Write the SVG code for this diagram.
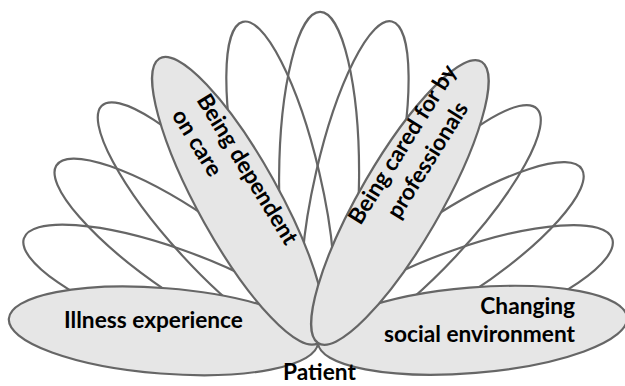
<svg xmlns="http://www.w3.org/2000/svg" width="625" height="386" viewBox="0 0 625 386">
<style>
.petal{fill:none;stroke:#666;stroke-width:2.2;vector-effect:non-scaling-stroke}
.filled{fill:#e6e6e6;stroke:#666;stroke-width:2.2;vector-effect:non-scaling-stroke}
.lbl{font-family:Lato,"Liberation Sans",sans-serif;font-weight:bold;font-size:22.7px;fill:#000}
</style>
<rect width="625" height="386" fill="#fff"/>
<g id="petals-outline" transform="translate(318,343) scale(1,1.068)">
<ellipse class="petal" cx="155" cy="0" rx="155" ry="40" transform="rotate(-161.6)"/>
<ellipse class="petal" cx="155" cy="0" rx="155" ry="40" transform="rotate(-147.6)"/>
<ellipse class="petal" cx="155" cy="0" rx="155" ry="40" transform="rotate(-134.3)"/>
<ellipse class="petal" cx="155" cy="0" rx="155" ry="40" transform="rotate(-104.05)"/>
<ellipse class="petal" cx="155" cy="0" rx="155" ry="40" transform="rotate(-89.6)"/>
<ellipse class="petal" cx="155" cy="0" rx="155" ry="40" transform="rotate(-76.2)"/>
<ellipse class="petal" cx="155" cy="0" rx="155" ry="40" transform="rotate(-45)"/>
<ellipse class="petal" cx="155" cy="0" rx="155" ry="40" transform="rotate(-31.6)"/>
<ellipse class="petal" cx="155" cy="0" rx="155" ry="40" transform="rotate(-18.3)"/>
</g>
<g id="illness">
<ellipse class="filled" cx="155" cy="0" rx="155" ry="40" transform="translate(318,343) scale(1,1.068) rotate(-175.8)"/>
<text class="lbl" x="153.5" y="328" text-anchor="middle">Illness experience</text>
</g>
<g id="social">
<ellipse class="filled" cx="155" cy="0" rx="155" ry="40" transform="translate(318,343) scale(1,1.068) rotate(-4.4)"/>
<text class="lbl" text-anchor="end"><tspan x="575" y="314">Changing</tspan><tspan x="575" y="341.7">social environment</tspan></text>
</g>
<g id="dependent">
<ellipse class="filled" cx="155" cy="0" rx="155" ry="40" transform="translate(318,343) scale(1,1.068) rotate(-120.8)"/>
<text class="lbl" transform="translate(196,100) rotate(58.5)"><tspan x="0" y="0">Being dependent</tspan><tspan x="0" y="29">on care</tspan></text>
</g>
<g id="professionals">
<ellipse class="filled" cx="155" cy="0" rx="155" ry="40" transform="translate(318,343) scale(1,1.068) rotate(-58.1)"/>
<text class="lbl" text-anchor="middle" transform="translate(409,148.5) rotate(-58)"><tspan x="0" y="0">Being cared for by</tspan><tspan x="0" y="29.5">professionals</tspan></text>
</g>
<g id="patient">
<text class="lbl" x="319.5" y="380" text-anchor="middle">Patient</text>
</g>
</svg>
